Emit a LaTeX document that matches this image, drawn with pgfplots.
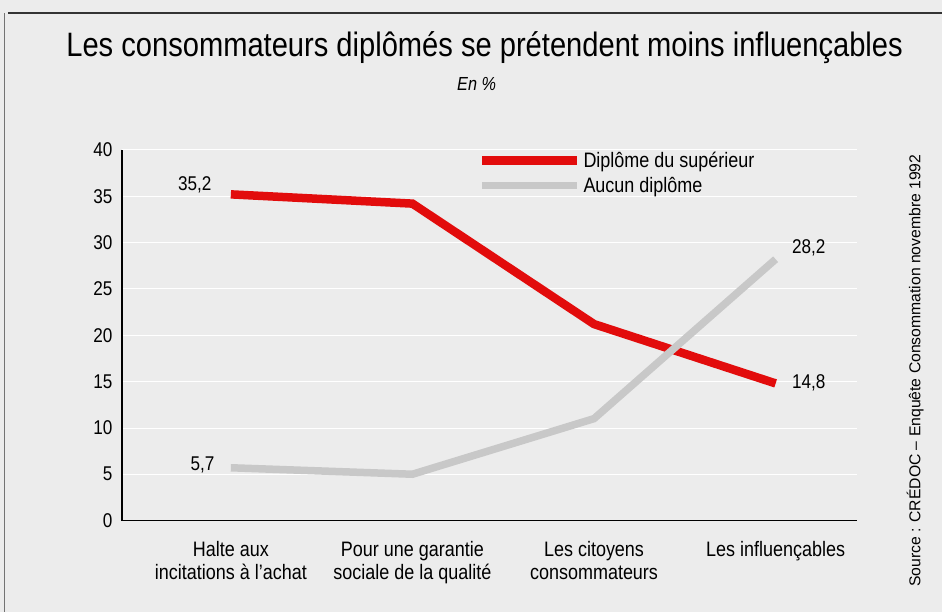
\documentclass[border=0pt]{standalone}
\usepackage{pgfplots}
\pgfplotsset{compat=1.18}
\usepackage{fontspec}
\setmainfont{Liberation Sans}[FakeStretch=0.86]
\newfontfamily\srcfont{Liberation Sans}
\definecolor{bg}{RGB}{236,236,236}
\definecolor{redl}{RGB}{226,12,12}
\definecolor{grayl}{RGB}{200,200,200}
\begin{document}
\begin{tikzpicture}[x=1bp,y=1bp]
\fill[bg] (0,0) rectangle (943,612);
\draw[black!80, line width=1.5bp] (8,599) -- (943,599);
\draw[black!55, line width=1bp] (5,0) -- (5,599);
\node[font=\fontsize{34}{40}\selectfont] at (485,564) {Les consommateurs diplômés se prétendent moins influençables};
\node[font=\fontsize{19}{22}\selectfont\itshape] at (477,528) {En \%};
\node[rotate=90, font=\srcfont\fontsize{15.8}{18}\selectfont] at (916,241) {Source : CRÉDOC – Enquête Consommation novembre 1992};
\begin{axis}[
  at={(122bp,91bp)}, anchor=south west,
  scale only axis, width=736bp, height=371bp,
  xmin=-0.6, xmax=3.45, ymin=0, ymax=40,
  ytick={0,5,...,40}, xtick={0,1,2,3},
  xticklabels={{Halte aux\\incitations à l'achat},{Pour une garantie\\sociale de la qualité},{Les citoyens\\consommateurs},{Les influençables}},
  axis x line*=bottom, axis y line*=left,
  axis line style={line width=1.2bp,-},
  major tick length=0pt,
  ymajorgrids, grid style={white, line width=0.8bp},
  /pgf/number format/assume math mode=true,
  yticklabel style={font=\fontsize{20}{24}\selectfont, xshift=-6bp},
  xticklabel style={font=\fontsize{21}{23}\selectfont, align=center, yshift=-17bp},
  legend style={at={(rel axis cs:0.48,1.005)}, anchor=north west, draw=none, fill=none, font=\fontsize{21}{23}\selectfont, row sep=4bp},
  legend cell align=left,
  legend image code/.code={\draw[#1] (0bp,0bp) -- (95bp,0bp);},
]
\addplot[redl, line width=8.5bp] coordinates {(0,35.2)(1,34.2)(2,21.2)(3,14.8)};
\addlegendentry{Diplôme du supérieur}
\addplot[grayl, line width=7.5bp] coordinates {(0,5.7)(1,5.0)(2,11.0)(3,28.2)};
\addlegendentry{Aucun diplôme}
\node[anchor=east, font=\fontsize{20}{24}\selectfont, xshift=-16bp, yshift=10bp] at (axis cs:0,35.2) {35,2};
\node[anchor=east, font=\fontsize{20}{24}\selectfont, xshift=-13bp, yshift=3bp] at (axis cs:0,5.7) {5,7};
\node[anchor=west, font=\fontsize{20}{24}\selectfont, xshift=13bp, yshift=11bp] at (axis cs:3,28.2) {28,2};
\node[anchor=west, font=\fontsize{20}{24}\selectfont, xshift=13bp, yshift=1bp] at (axis cs:3,14.8) {14,8};
\end{axis}
\end{tikzpicture}
\end{document}
